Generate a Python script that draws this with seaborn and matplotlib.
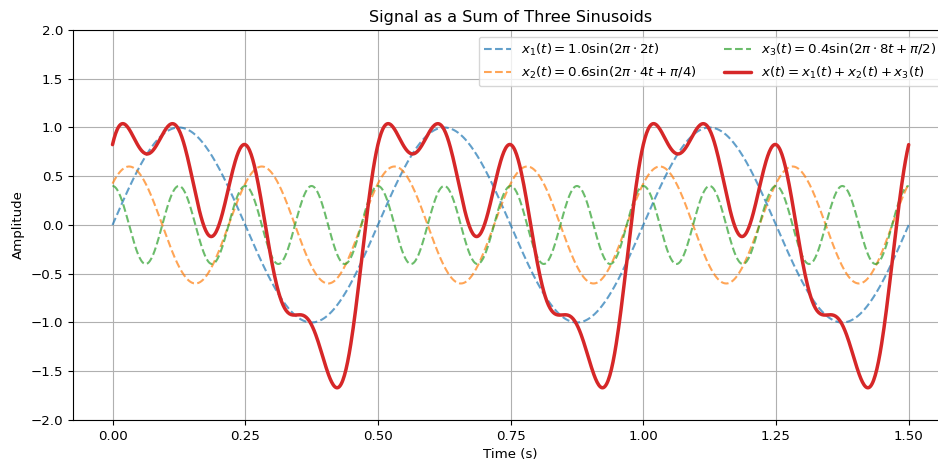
import matplotlib
matplotlib.use("Agg")
import matplotlib.pyplot as plt
import numpy as np
import pandas as pd
import seaborn as sns

# component parameters, as given in the legend
amplitudes = [1.0, 0.6, 0.4]
frequencies = [2, 4, 8]
phases = [0.0, np.pi / 4, np.pi / 2]
labels = [
    r"$x_1(t) = 1.0\sin(2\pi \cdot 2t)$",
    r"$x_2(t) = 0.6\sin(2\pi \cdot 4t + \pi/4)$",
    r"$x_3(t) = 0.4\sin(2\pi \cdot 8t + \pi/2)$",
]
sum_label = r"$x(t) = x_1(t) + x_2(t) + x_3(t)$"
colors = ["tab:blue", "tab:orange", "tab:green"]

t_start, t_end, n_samples = 0.0, 1.5, 1000


def main():
    sns.set_style("ticks")
    plt.rcParams['font.family'] = ['DejaVu Sans']
    fs = 9.65
    plt.rcParams.update({
        'font.size': fs,
        'xtick.labelsize': fs,
        'ytick.labelsize': fs,
        'axes.labelsize': fs,
        'axes.titlesize': fs * 1.2,
        'legend.fontsize': fs,
        'text.color': 'black',
        'axes.labelcolor': 'black',
        'axes.edgecolor': 'black',
        'xtick.color': 'black',
        'ytick.color': 'black',
    })

    t = np.linspace(t_start, t_end, n_samples)
    df = pd.DataFrame({"t": t})
    for i, (a, f, p) in enumerate(zip(amplitudes, frequencies, phases)):
        df[f"x{i + 1}"] = a * np.sin(2 * np.pi * f * t + p)
    df["x"] = df["x1"] + df["x2"] + df["x3"]

    fig = plt.figure(figsize=(9.38, 4.65), dpi=100)
    # the original is cut off on the right, so the axes run past the figure edge
    ax = fig.add_axes([0.0775, 0.0968, 0.9337, 0.8387])
    for i, (lab, c) in enumerate(zip(labels, colors)):
        sns.lineplot(data=df, x="t", y=f"x{i + 1}", ax=ax, color=c, linestyle="--",
                     alpha=0.7, linewidth=1.5, label=lab)
    sns.lineplot(data=df, x="t", y="x", ax=ax, color="tab:red", linewidth=2.5, label=sum_label)

    ax.set_title("Signal as a Sum of Three Sinusoids")
    ax.set_xlabel("Time (s)")
    ax.set_ylabel("Amplitude")
    ax.set_ylim(-2, 2)
    ax.set_xlim(-0.075, 1.575)
    ax.set_yticks(np.arange(-2, 2.01, 0.5))
    ax.set_xticks(np.arange(0, 1.51, 0.25))
    ax.grid(True, color="#b0b0b0", linewidth=0.8)
    ax.legend(loc="upper right", ncol=2)

    fig.savefig("out.png", dpi=100)


if __name__ == "__main__":
    main()
